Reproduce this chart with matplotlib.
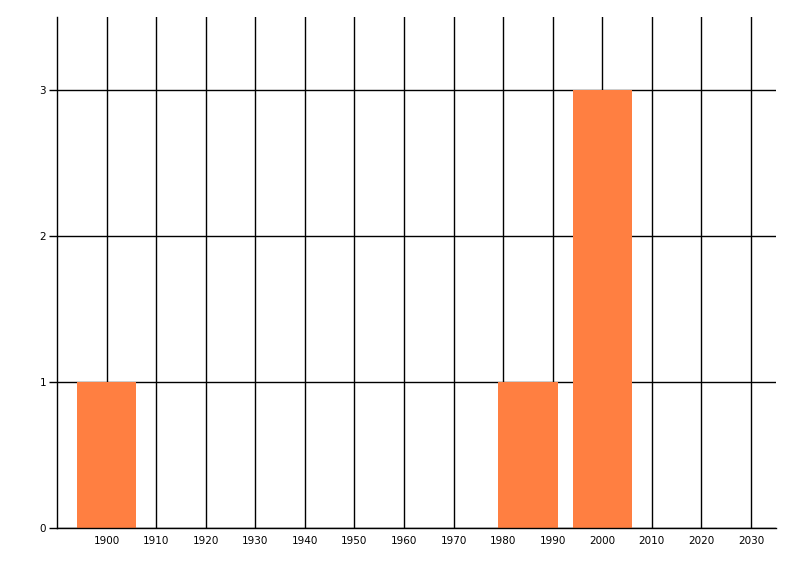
import matplotlib.pyplot as plt

# Datos del histograma
anios = [1900, 1985, 2000]
conteos = [1, 1, 3]
ancho = 12

marcas_x = list(range(1900, 2031, 10))
marcas_y = [0, 1, 2, 3]

fig = plt.figure(figsize=(8, 5.76), dpi=100)
ax = fig.add_axes([0.0713, 0.0833, 0.8984, 0.8872])

ax.bar(anios, conteos, width=ancho, color='#FF7F41', zorder=2)

ax.set_xlim(1890, 2035)
ax.set_ylim(0, 3.5)
ax.set_xticks(marcas_x)
ax.set_yticks(marcas_y)
ax.grid(True, color='black', linewidth=1.0, zorder=1)
ax.set_axisbelow(True)

for lado in ['top', 'right']:
    ax.spines[lado].set_visible(False)
for lado in ['left', 'bottom']:
    ax.spines[lado].set_linewidth(1.0)

ax.tick_params(axis='x', length=0, pad=6, labelsize=7.5)
ax.tick_params(axis='y', length=5.8, width=1.0, pad=2, labelsize=7.5)

fig.savefig('out.png', dpi=100)
